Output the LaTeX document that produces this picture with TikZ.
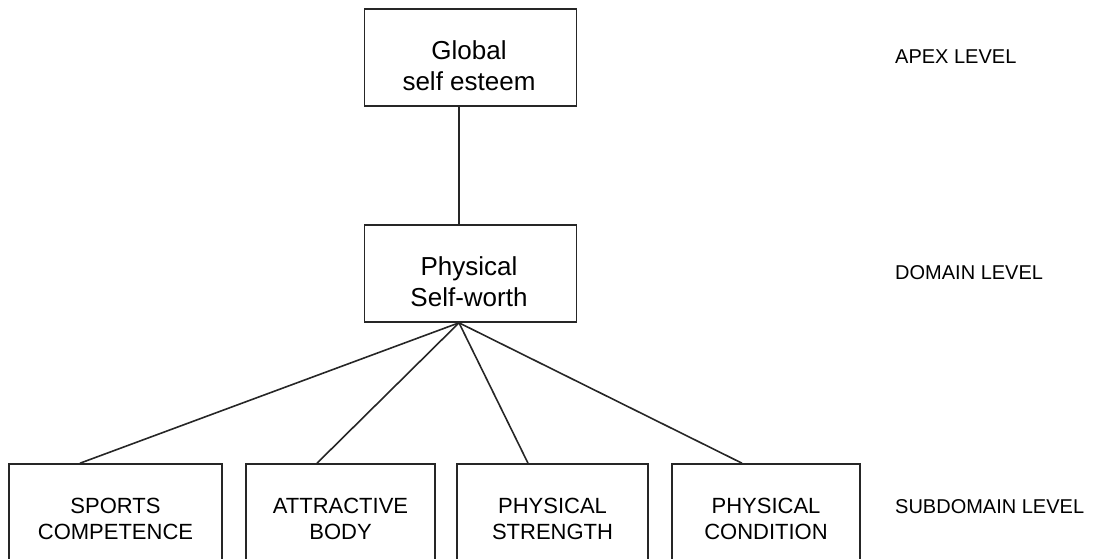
\documentclass[tikz,border=0pt]{standalone}
\usepackage{fontspec}
\setmainfont{Liberation Sans}
\begin{document}
\begin{tikzpicture}[x=1pt,y=-1pt,
  box/.style={draw=black!85, line width=1.6pt, inner sep=0pt},
  topbox/.style={box, minimum width=212pt, minimum height=97pt},
  toptext/.style={align=center, inner sep=0pt, font=\fontsize{26}{31}\selectfont},
  subtext/.style={align=center, inner sep=0pt, font=\fontsize{22}{26}\selectfont},
  conn/.style={draw=black!85, line width=1.6pt},
  lvl/.style={anchor=west, inner sep=0pt, font=\fontsize{20}{24}\selectfont}]
\useasboundingbox (0,0) rectangle (1102,558);
\clip (0,0) rectangle (1102,558);
\node[topbox] (apex) at (470.5,57.5) {};
\node[topbox] (dom) at (470.5,273.5) {};
\node[toptext] (apext) at (469,66) {Global\\self esteem};
\node[toptext] (domt) at (469,282) {Physical\\Self-worth};
\node[box, minimum width=213pt, minimum height=108pt] (s1) at (115.5,518) {};
\node[box, minimum width=189pt, minimum height=108pt] (s2) at (340.5,518) {};
\node[box, minimum width=191pt, minimum height=108pt] (s3) at (552.5,518) {};
\node[box, minimum width=188pt, minimum height=108pt] (s4) at (766,518) {};
\node[subtext] (t1) at (115.5,519) {SPORTS\\COMPETENCE};
\node[subtext] (t2) at (340.5,519) {ATTRACTIVE\\BODY};
\node[subtext] (t3) at (552.5,519) {PHYSICAL\\STRENGTH};
\node[subtext] (t4) at (766,519) {PHYSICAL\\CONDITION};
\coordinate (a1) at ([xshift=-11.5pt]apex.south);
\coordinate (a2) at ([xshift=-11.5pt]dom.north);
\coordinate (hub) at ([xshift=-11.5pt]dom.south);
\draw[conn] (a1) -- (a2);
\draw[conn] (hub) -- ([xshift=-35.5pt]s1.north);
\draw[conn] (hub) -- ([xshift=-23.5pt]s2.north);
\draw[conn] (hub) -- ([xshift=-24.5pt]s3.north);
\draw[conn] (hub) -- ([xshift=-24pt]s4.north);
\node[lvl] (l1) at (895,57) {APEX LEVEL};
\node[lvl] (l2) at (895,273) {DOMAIN LEVEL};
\node[lvl] (l3) at (895,507) {SUBDOMAIN LEVEL};
\end{tikzpicture}
\end{document}
